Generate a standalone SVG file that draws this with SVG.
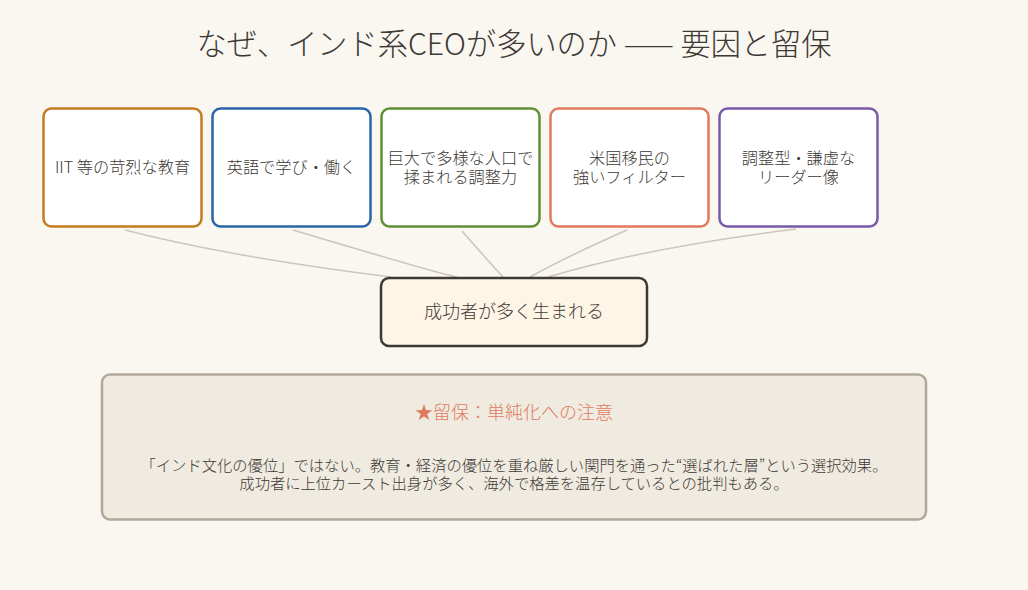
<svg xmlns="http://www.w3.org/2000/svg" width="1028" height="590" viewBox="0 0 1028 590">
<style>
text{font-family:"Noto Sans CJK JP","Liberation Sans",sans-serif;font-weight:300;fill:#3d3935;text-anchor:middle;}
.t{font-size:30.2px;}
.n{font-size:16.2px;}
.box{fill:#ffffff;stroke-width:2.5;}
.c{fill:none;stroke:#cdc5b9;stroke-width:1.5;}
</style>
<rect width="1028" height="590" fill="#faf6f0"/>
<text class="t" x="514" y="55">なぜ、インド系CEOが多いのか —— 要因と留保</text>
<g id="connectors">
<path class="c" d="M125,230 Q230,257 391,277"/>
<path class="c" d="M293,230 Q440,274 457,277"/>
<path class="c" d="M462,231 Q481,253 503,277"/>
<path class="c" d="M627,230 Q570,255 530,277"/>
<path class="c" d="M796,229 Q649,247 548,277"/>
</g>
<g id="n1"><rect class="box" x="43.5" y="108.5" width="158" height="118" rx="8" stroke="#c47c22"/><text class="n" x="122.5" y="173">IIT 等の苛烈な教育</text></g>
<g id="n2"><rect class="box" x="212.5" y="108.5" width="158" height="118" rx="8" stroke="#2a65a8"/><text class="n" x="291.5" y="173">英語で学び・働く</text></g>
<g id="n3"><rect class="box" x="381.5" y="108.5" width="158" height="118" rx="8" stroke="#5f9035"/><text class="n" x="460.5" y="164">巨大で多様な人口で</text><text class="n" x="460.5" y="183">揉まれる調整力</text></g>
<g id="n4"><rect class="box" x="550.5" y="108.5" width="158" height="118" rx="8" stroke="#e07a5f"/><text class="n" x="629.5" y="164">米国移民の</text><text class="n" x="629.5" y="183">強いフィルター</text></g>
<g id="n5"><rect class="box" x="719.5" y="108.5" width="158" height="118" rx="8" stroke="#7a5aa8"/><text class="n" x="798.5" y="164">調整型・謙虚な</text><text class="n" x="798.5" y="183">リーダー像</text></g>
<g id="center"><rect x="381" y="278" width="266" height="68" rx="8" fill="#fff5e6" stroke="#3d3935" stroke-width="2.5"/><text x="514" y="318" font-size="18">成功者が多く生まれる</text></g>
<g id="note"><rect x="102" y="374.5" width="824" height="145" rx="8" fill="#f0ebe1" stroke="#b0a898" stroke-width="2.5"/>
<text x="514" y="419" font-size="18" style="fill:#e07a5f">★留保：単純化への注意</text>
<text x="514" y="471" font-size="15.3">「インド文化の優位」ではない。教育・経済の優位を重ね厳しい関門を通った“選ばれた層”という選択効果。</text>
<text x="514" y="489" font-size="15.3">成功者に上位カースト出身が多く、海外で格差を温存しているとの批判もある。</text>
</g>
</svg>
